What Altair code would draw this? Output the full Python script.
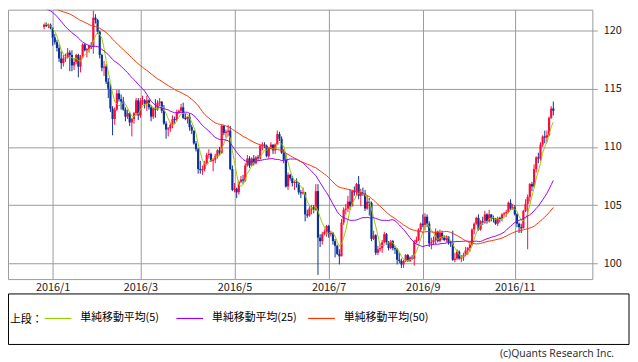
import altair as alt
import pandas as pd

# daily candles: (day, open, high, low, close)
dec_2015 = [(28,120.3,120.6,120.1,120.5),(29,120.5,120.7,120.3,120.4),(30,120.4,120.6,120.2,120.5),(31,120.5,120.6,120.1,120.2)]
jan_2016 = [(4,120.2,120.3,118.7,119.4),(5,119.4,119.7,118.8,119.0),(6,119.0,119.2,118.2,118.5),(7,118.5,118.8,117.3,117.6),
            (8,117.6,118.2,116.7,117.2),(11,117.2,117.9,116.9,117.6),(12,117.6,118.0,117.3,117.7),(13,117.7,118.5,117.6,118.1),
            (14,118.1,118.3,116.5,117.9),(15,117.9,118.3,116.5,117.0),(18,117.0,117.6,116.6,117.3),(19,117.3,118.0,117.1,117.9),
            (20,117.9,118.0,115.98,116.9),(21,116.9,117.9,116.4,117.7),(22,117.7,118.9,117.6,118.8),(25,118.8,118.9,118.2,118.3),
            (26,118.3,118.5,117.7,118.4),(27,118.4,118.8,118.1,118.7),(28,118.7,119.0,118.4,118.6),(29,118.6,121.7,118.0,121.1)]
feb_2016 = [(1,121.1,121.4,120.6,120.9),(2,120.9,121.0,119.7,119.9),(3,119.9,120.0,117.6,117.9),(4,117.9,118.0,116.5,116.8),
            (5,116.8,117.4,116.1,116.9),(8,116.9,117.1,115.4,115.6),(9,115.6,115.9,114.2,115.0),(10,115.0,115.4,113.0,113.3),
            (11,113.3,113.5,111.0,112.4),(12,112.4,113.4,111.9,113.2),(15,113.2,114.9,113.1,114.6),(16,114.6,114.9,113.9,114.1),
            (17,114.1,114.5,113.2,113.9),(18,113.9,114.3,113.1,113.2),(19,113.2,113.4,112.2,112.6),(22,112.6,113.2,112.4,112.9),
            (23,112.9,113.0,111.8,112.1),(24,112.1,112.5,110.9,112.4),(25,112.4,113.0,112.0,112.9),(26,112.9,114.2,112.7,114.0),
            (29,114.0,114.2,112.3,112.7)]
mar_2016 = [(1,112.7,114.2,112.5,113.9),(2,113.9,114.4,113.6,114.0),(3,114.0,114.1,113.3,113.7),(4,113.7,114.4,113.1,114.0),
            (7,114.0,114.1,113.2,113.4),(8,113.4,113.6,112.2,112.6),(9,112.6,113.4,112.4,113.3),(10,113.3,114.1,112.5,113.2),
            (11,113.2,114.0,113.1,113.8),(14,113.8,114.2,113.5,113.9),(15,113.9,113.9,112.9,113.1),(16,113.1,113.6,111.9,112.0),
            (17,112.0,112.2,110.7,111.5),(18,111.5,111.7,110.9,111.6),(21,111.6,112.1,111.3,111.9),(22,111.9,112.7,111.6,112.4),
            (23,112.4,112.6,112.0,112.3),(24,112.3,113.2,112.2,113.0),(25,113.0,113.2,112.8,113.1),(28,113.1,113.7,113.0,113.4),
            (29,113.4,113.8,112.4,112.5),(30,112.5,112.9,112.3,112.4),(31,112.4,112.6,112.0,112.6)]
apr_2016 = [(1,112.6,112.9,111.4,111.7),(4,111.7,111.9,111.1,111.4),(5,111.4,111.4,110.2,110.3),(6,110.3,110.5,109.6,109.8),
            (7,109.8,109.9,107.7,108.1),(8,108.1,108.8,107.7,108.0),(11,108.0,108.4,107.6,108.1),(12,108.1,108.8,107.9,108.6),
            (13,108.6,109.5,108.5,109.3),(14,109.3,109.8,109.0,109.4),(15,109.4,109.5,108.7,108.8),(18,108.8,109.0,107.9,108.9),
            (19,108.9,109.4,108.6,109.2),(20,109.2,109.8,109.0,109.7),(21,109.7,110.0,109.3,109.5),(22,109.5,111.9,109.4,111.8),
            (25,111.8,111.9,111.0,111.2),(26,111.2,111.5,110.8,111.3),(27,111.3,111.9,111.0,111.4),(28,111.4,111.8,108.0,108.1),
            (29,108.1,108.4,106.2,106.3)]
may_2016 = [(2,106.3,106.9,106.1,106.4),(3,106.4,106.5,105.6,106.1),(4,106.1,107.1,105.9,107.0),(5,107.0,107.5,106.9,107.2),
            (6,107.2,107.6,106.8,107.1),(9,107.1,108.6,107.0,108.4),(10,108.4,109.3,108.3,109.0),(11,109.0,109.2,108.2,108.4),
            (12,108.4,109.1,108.3,109.0),(13,109.0,109.3,108.4,108.6),(16,108.6,109.2,108.5,109.1),(17,109.1,109.3,108.8,109.0),
            (18,109.0,110.2,108.9,110.1),(19,110.1,110.4,109.7,110.2),(20,110.2,110.4,109.9,110.1),(23,110.1,110.2,109.1,109.2),
            (24,109.2,110.0,109.0,109.9),(25,109.9,110.4,109.8,110.2),(26,110.2,110.2,109.4,109.7),(27,109.7,110.3,109.4,110.2),
            (30,110.2,111.4,110.2,111.1),(31,111.1,111.3,110.5,110.7)]
jun_2016 = [(1,110.7,110.9,109.4,109.5),(2,109.5,109.8,108.6,108.9),(3,108.9,109.4,106.5,106.6),(6,106.6,107.8,106.3,107.6),
            (7,107.6,107.7,107.1,107.3),(8,107.3,107.5,106.6,106.9),(9,106.9,107.1,106.3,107.0),(10,107.0,107.3,106.5,106.9),
            (13,106.9,107.0,105.9,106.1),(14,106.1,106.3,105.6,106.0),(15,106.0,106.5,105.9,106.1),(16,106.1,106.1,103.6,104.2),
            (17,104.2,104.6,103.9,104.1),(20,104.1,104.9,104.0,104.7),(21,104.7,105.0,104.2,104.8),(22,104.8,105.0,104.3,104.6),
            (23,104.6,106.8,104.5,106.2),(24,106.2,106.8,99.0,102.2),(27,102.2,102.5,101.4,101.9),(28,101.9,102.7,101.6,102.5),
            (29,102.5,102.9,102.4,102.7),(30,102.7,103.3,102.3,103.2)]
jul_2016 = [(1,103.2,103.3,102.2,102.5),(4,102.5,102.8,102.3,102.6),(5,102.6,102.7,101.6,101.9),(6,101.9,102.1,100.5,101.5),
            (7,101.5,101.6,100.7,100.8),(8,100.8,101.2,99.9,100.6),(11,100.6,103.8,100.6,103.5),(12,103.5,104.8,103.3,104.6),
            (13,104.6,105.1,104.2,104.7),(14,104.7,105.8,104.4,105.3),(15,105.3,106.3,104.6,104.9),(18,104.9,106.3,104.9,106.2),
            (19,106.2,106.6,105.8,106.1),(20,106.1,106.9,105.8,106.8),(21,106.8,107.5,105.5,105.8),(22,105.8,106.4,104.9,106.1),
            (25,106.1,106.5,105.8,106.0),(26,106.0,106.3,104.5,104.7),(27,104.7,105.8,104.6,105.3),(28,105.3,105.6,104.1,105.2),
            (29,105.2,105.3,101.9,102.1)]
aug_2016 = [(1,102.1,102.8,102.0,102.4),(2,102.4,102.5,100.7,100.9),(3,100.9,101.5,100.7,101.2),(4,101.2,101.7,101.0,101.3),
            (5,101.3,102.0,100.9,101.8),(8,101.8,102.7,101.7,102.5),(9,102.5,102.6,101.6,101.8),(10,101.8,101.9,101.1,101.3),
            (11,101.3,102.0,101.2,101.9),(12,101.9,102.0,101.1,101.3),(15,101.3,101.5,100.8,101.2),(16,101.2,101.3,99.9,100.3),
            (17,100.3,100.9,100.0,100.2),(18,100.2,100.4,99.6,99.9),(19,99.9,100.3,99.6,100.2),(22,100.2,100.8,100.1,100.7),
            (23,100.7,100.8,100.1,100.2),(24,100.2,100.6,100.1,100.5),(25,100.5,100.7,100.3,100.4),(26,100.4,102.0,99.8,101.8),
            (29,101.8,102.3,101.7,102.0),(30,102.0,103.0,101.9,102.9),(31,102.9,103.5,102.7,103.4)]
sep_2016 = [(1,103.4,104.2,103.1,103.3),(2,103.3,104.3,102.8,104.0),(5,104.0,104.2,103.1,103.4),(6,103.4,103.6,101.4,101.7),
            (7,101.7,102.2,101.2,101.8),(8,101.8,102.3,101.6,102.0),(9,102.0,103.0,101.6,102.7),(12,102.7,102.8,101.8,101.9),
            (13,101.9,102.9,101.8,102.6),(14,102.6,102.8,102.0,102.2),(15,102.2,102.4,101.9,102.0),(16,102.0,102.4,101.8,102.3),
            (19,102.3,102.3,101.6,101.8),(20,101.8,101.9,101.4,101.7),(21,101.7,102.8,100.2,100.3),(22,100.3,100.9,100.1,100.4),
            (23,100.4,101.2,100.3,101.0),(26,101.0,101.1,100.3,100.4),(27,100.4,100.7,100.1,100.5),(28,100.5,100.9,100.2,100.7),
            (29,100.7,101.4,100.6,101.1),(30,101.1,101.4,100.7,101.3)]
oct_2016 = [(3,101.3,101.7,101.0,101.6),(4,101.6,103.0,101.5,102.9),(5,102.9,103.5,102.5,103.4),(6,103.4,104.0,103.3,103.9),
            (7,103.9,104.2,102.8,102.9),(10,102.9,103.7,102.8,103.6),(11,103.6,104.0,103.3,103.5),(12,103.5,104.5,103.4,104.2),
            (13,104.2,104.3,103.4,103.6),(14,103.6,104.6,103.5,104.2),(17,104.2,104.2,103.6,103.9),(18,103.9,104.1,103.5,103.8),
            (19,103.8,103.9,103.3,103.4),(20,103.4,104.0,103.2,103.9),(21,103.9,104.0,103.5,103.8),(24,103.8,104.3,103.6,104.2),
            (25,104.2,104.4,104.0,104.3),(26,104.3,104.6,104.0,104.4),(27,104.4,105.3,104.3,105.2),(28,105.2,105.5,104.6,104.7),
            (31,104.7,105.1,104.6,104.8)]
nov_2016 = [(1,104.8,105.0,104.1,104.2),(2,104.2,104.3,103.1,103.4),(3,103.4,103.5,102.6,103.1),(4,103.1,103.4,102.6,103.0),
            (7,103.0,104.6,103.0,104.5),(8,104.5,105.5,104.4,105.1),(9,105.1,105.9,101.2,105.7),(10,105.7,106.9,105.3,106.8),
            (11,106.8,107.0,106.2,106.6),(14,106.6,108.5,106.5,108.1),(15,108.1,109.2,107.8,109.1),(16,109.1,109.5,108.6,109.0),
            (17,109.0,110.4,108.8,110.2),(18,110.2,111.0,110.0,110.9),(21,110.9,111.4,110.3,110.8),(22,110.8,111.4,110.4,111.0),
            (23,111.0,112.6,110.9,112.5),(24,112.5,113.5,112.4,113.3),(25,113.3,113.9,112.7,113.1)]

# closes before the visible range (Oct 20 - Dec 25, 2015), needed for the moving averages
prior_closes = [119.8,119.9,120.6,121.5, 121.1,120.5,121.1,121.1,120.6, 120.5,121.0,121.5,121.7,123.2,
                123.2,123.2,122.9,122.6,122.6, 123.1,123.4,123.6,122.9,122.8, 122.8,122.5,122.6,122.6,122.8,
                123.1,122.8,123.2,122.6,123.2, 123.3,122.8,121.6,121.6,120.9, 120.9,121.7,122.2,122.6,121.2,
                121.2,121.0,120.9,120.6,120.4]

months = [(2015,12,dec_2015),(2016,1,jan_2016),(2016,2,feb_2016),(2016,3,mar_2016),(2016,4,apr_2016),
          (2016,5,may_2016),(2016,6,jun_2016),(2016,7,jul_2016),(2016,8,aug_2016),(2016,9,sep_2016),
          (2016,10,oct_2016),(2016,11,nov_2016)]

ma_windows = [5, 25, 50]
ma_keys = ["ma5", "ma25", "ma50"]
ma_labels = ["単純移動平均(5)", "単純移動平均(25)", "単純移動平均(50)"]
ma_colors = ["#99cc00", "#9900ff", "#ff3300"]
legend_title = "上段："
credit_text = "(c)Quants Research Inc."
y_ticks = [100, 105, 110, 115, 120]
x_tick_months = [(2016,1),(2016,3),(2016,5),(2016,7),(2016,9),(2016,11)]
x_tick_labels = ["2016/1", "2016/3", "2016/5", "2016/7", "2016/9", "2016/11"]

UP, DOWN = "#ff0a3c", "#0a3296"
GRID = "#9a9a9a"
FONT = "Noto Sans CJK JP"

rows = []
n_prior = len(prior_closes)
for i, c in enumerate(prior_closes):
    rows.append(dict(idx=i - n_prior, o=c, h=c, l=c, c=c, show=0))
tick_idx = {}
k = 0
for yy, mm, lst in months:
    for (d, o, h, l, c) in lst:
        rows.append(dict(idx=k, o=o, h=h, l=l, c=c, show=1))
        if (yy, mm) in x_tick_months and (yy, mm) not in tick_idx:
            tick_idx[(yy, mm)] = k
        k += 1
df = pd.DataFrame(rows)
tick_vals = [tick_idx[m] for m in x_tick_months]
label_expr = " : ".join(f"datum.value == {v} ? '{t}'" for v, t in zip(tick_vals, x_tick_labels)) + " : ''"

last = k - 1
W, H = 590, 272
px_per = 523 / last
x_dom = [-32 / px_per, (W - 32) / px_per]
y_dom = [98.64, 121.79]

x_enc = alt.X("idx:Q", scale=alt.Scale(domain=x_dom, nice=False, zero=False),
              axis=alt.Axis(values=tick_vals, labelExpr=label_expr, grid=True, ticks=False, domain=False,
                            title=None, labelFont=FONT, labelFontSize=11, labelColor="#222",
                            labelPadding=3, gridColor=GRID, labelOverlap=False, labelFlush=False))
def y_enc(f):
    return alt.Y(f, scale=alt.Scale(domain=y_dom, nice=False, zero=False),
                 axis=alt.Axis(values=y_ticks, orient="right", grid=True, gridColor=GRID, domain=False,
                               ticks=True, tickSize=5, tickColor=GRID, title=None, labelFont=FONT,
                               labelFontSize=11, labelColor="#222", labelPadding=6))

base = alt.Chart(df)
visible = base.transform_filter("datum.show == 1")
col = alt.condition("datum.c >= datum.o", alt.value(UP), alt.value(DOWN))

wicks = visible.mark_rule(strokeWidth=1).encode(x=x_enc, y=y_enc("l:Q"), y2="h:Q", color=col)
bodies = visible.mark_bar(size=2.2).encode(x=x_enc, y=y_enc("o:Q"), y2="c:Q", color=col)

ma_expr = " : ".join(f"datum.key == '{kk}' ? '{lb}'" for kk, lb in zip(ma_keys, ma_labels)) + " : ''"
ma = base
for kk, wn in zip(ma_keys, ma_windows):
    ma = ma.transform_window(
        window=[alt.WindowFieldDef(op="mean", field="c", **{"as": kk})],
        frame=[-(wn - 1), 0], sort=[alt.SortField("idx")])
ma = ma.transform_filter("datum.show == 1").transform_fold(ma_keys, as_=["key", "value"]
).transform_calculate(name=ma_expr)

lines = ma.mark_line(strokeWidth=1, clip=True).encode(
    x=x_enc, y=y_enc("value:Q"),
    color=alt.Color("name:N", scale=alt.Scale(domain=ma_labels, range=ma_colors),
                    legend=alt.Legend(title=None, orient="none", legendX=36, legendY=297,
                                      direction="horizontal", gridAlign="all",
                                      symbolType="stroke",
                                      symbolSize=729, symbolStrokeWidth=1.2, labelFont=FONT,
                                      labelFontSize=11, labelOffset=8, columnPadding=8,
                                      padding=0, labelColor="#000", labelLimit=300)),
    detail="key:N",
)

one = alt.Chart(pd.DataFrame({"k": [0]}))
box = one.mark_rect(fillOpacity=0, stroke="#000", strokeWidth=1).encode(
    x=alt.value(0.5), x2=alt.value(627), y=alt.value(287), y2=alt.value(338))
title_txt = one.mark_text(text=legend_title, align="left", baseline="middle",
                          font=FONT, fontSize=11, color="#000").encode(
    x=alt.value(2), y=alt.value(313))
credit = one.mark_text(text=credit_text, align="right", baseline="middle",
                       font="Noto Sans", fontSize=10.5, color="#333").encode(
    x=alt.value(612), y=alt.value(348))

chart = alt.layer(wicks, bodies, lines, box, title_txt, credit).properties(
    width=W, height=H, padding=0
).configure_view(stroke=GRID, strokeWidth=1)

chart.save("out.html", embed_options={"renderer": "svg", "actions": False})
